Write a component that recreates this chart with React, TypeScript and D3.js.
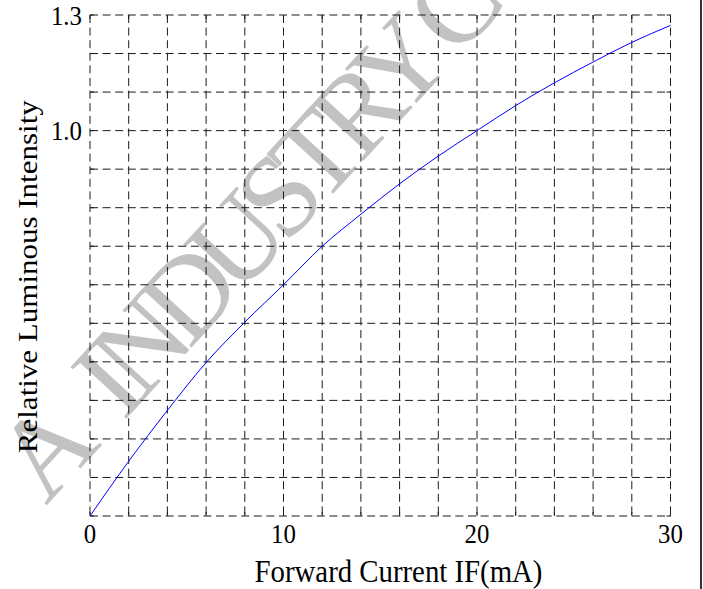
import React from "react";
import * as d3 from "d3";

const currentMA = [0, 2, 4, 6, 8, 10, 12, 14, 16, 18, 20, 22, 24, 26, 28, 30];
const relIntensity = [0, 0.142, 0.274, 0.398, 0.503, 0.6, 0.7, 0.783, 0.862, 0.934, 1.0, 1.065, 1.124, 1.178, 1.229, 1.273];
const xGrid = d3.range(0, 31, 2);
const yGrid = d3.range(0, 14).map((i) => i / 10);
const xTickLabels = [0, 10, 20, 30];
const yTickLabels = [1.0, 1.3];
const xTitle = "Forward Current IF(mA)";
const yTitle = "Relative Luminous Intensity";
const watermarkParts = ["A", " INDUSTRY CO"];

const W = 703;
const H = 589;
const L = 90, R = 670.5, T = 15, B = 516;
const FONT = "'Liberation Serif', 'Times New Roman', Times, serif";

export default function App() {
  const x = d3.scaleLinear().domain([0, 30]).range([L, R]);
  const y = d3.scaleLinear().domain([0, 1.3]).range([B, T]);
  const pts = currentMA.map((c, i) => [c, relIntensity[i]] as [number, number]);
  const line = d3
    .line<[number, number]>()
    .x((d) => x(d[0]))
    .y((d) => y(d[1]))
    .curve(d3.curveMonotoneX);
  const dash = "8,4.6";
  const gridColor = "#1a1a1a";
  const tick = 4;
  return (
    <svg
      width={W}
      height={H}
      style={{ position: "absolute", left: 0, top: 0, background: "#fff" }}
    >
      <rect x={0} y={0} width={W} height={H} fill="#fff" />
      <text
        transform="translate(46,506) rotate(-47.4)"
        fontFamily={FONT}
        fontSize={116}
        fill="#c2c2c2"
        style={{ letterSpacing: "-12.5px" }}
      >
        <tspan>{watermarkParts[0]}</tspan>
        <tspan dx={33}>{watermarkParts[1]}</tspan>
      </text>
      <g stroke={gridColor} strokeWidth={1} fill="none">
        {xGrid.map((v) => (
          <line key={"vx" + v} x1={x(v)} x2={x(v)} y1={T} y2={B} strokeDasharray={dash} />
        ))}
        {yGrid.map((v) => (
          <line key={"hy" + v} x1={L} x2={R} y1={y(v)} y2={y(v)} strokeDasharray={dash} />
        ))}
        {xGrid.map((v) => (
          <g key={"tx" + v}>
            <line x1={x(v)} x2={x(v)} y1={B} y2={B - tick} />
            <line x1={x(v)} x2={x(v)} y1={T} y2={T + tick} />
          </g>
        ))}
        {yGrid.map((v) => (
          <g key={"ty" + v}>
            <line x1={L} x2={L + tick} y1={y(v)} y2={y(v)} />
            <line x1={R} x2={R - tick} y1={y(v)} y2={y(v)} />
          </g>
        ))}
      </g>
      <path d={line(pts) || ""} fill="none" stroke="#0000ff" strokeWidth={1} />
      <g fontFamily={FONT} fontSize={27} fill="#000">
        {xTickLabels.map((v) => (
          <text
            key={"xl" + v}
            transform={`translate(${x(v)},${543}) scale(0.92,1)`}
            textAnchor="middle"
          >
            {v}
          </text>
        ))}
        {yTickLabels.map((v) => (
          <text
            key={"yl" + v}
            transform={`translate(${L - 8},${y(v) + 9.5}) scale(0.92,1)`}
            textAnchor="end"
          >
            {v.toFixed(1)}
          </text>
        ))}
      </g>
      <text
        transform="translate(398.5,582) scale(0.9,1)"
        textAnchor="middle"
        fontFamily={FONT}
        fontSize={32}
      >
        {xTitle}
      </text>
      <text
        transform="translate(37,276.7) scale(0.9,1) rotate(-90)"
        textAnchor="middle"
        fontFamily={FONT}
        fontSize={31}
      >
        {yTitle}
      </text>
      <line x1={701} x2={701} y1={0} y2={H} stroke="#333" strokeWidth={2} />
    </svg>
  );
}
